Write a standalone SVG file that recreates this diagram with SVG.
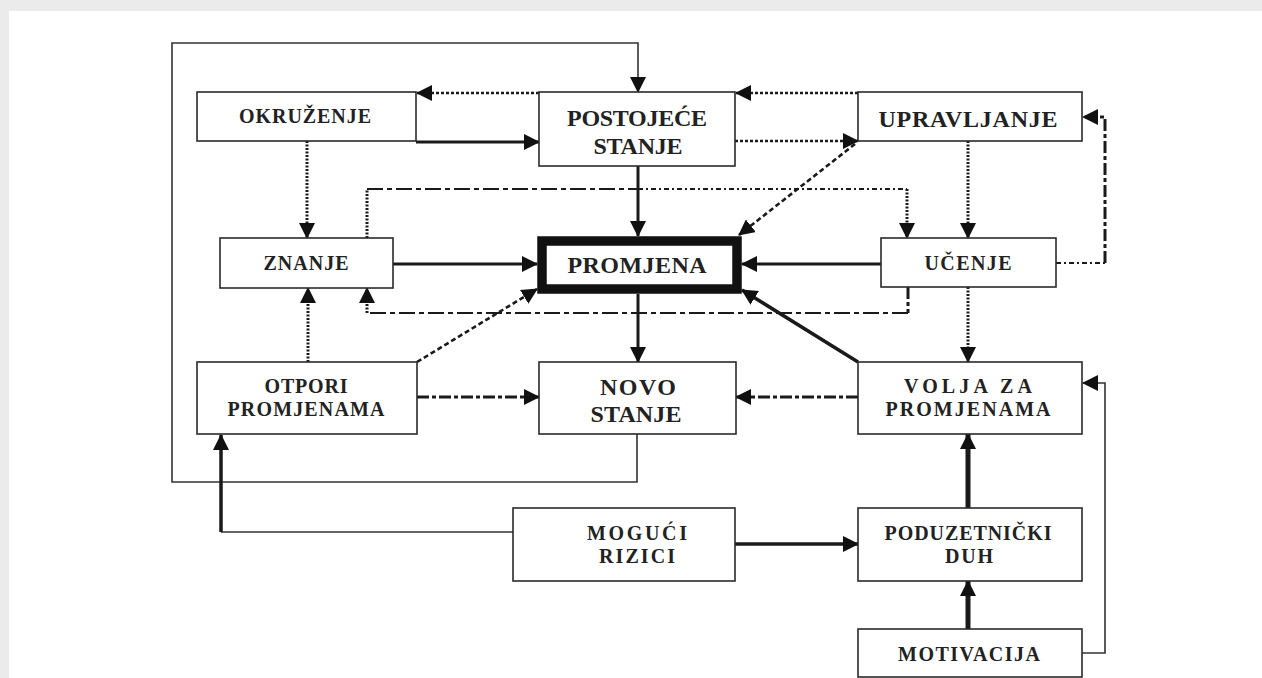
<svg xmlns="http://www.w3.org/2000/svg" width="1262" height="678" viewBox="0 0 1262 678">
<style>
.box{fill:#fff;stroke:#2a2a2a;stroke-width:1.6}
.lbl{font-family:"Liberation Serif","Times New Roman",serif;font-weight:bold;fill:#222;text-anchor:middle}
.s{font-size:20px}
.l{font-size:24px}
.c{fill:none;stroke:#1a1a1a}
.thin{stroke-width:1.6;stroke:#333}
.med{stroke-width:3}
.thick{stroke-width:5}
.dot{stroke-width:2.6;stroke-dasharray:3 2}
.vdot{stroke-width:3;stroke-dasharray:2 1.5}
.dash{stroke-width:2.6;stroke-dasharray:5 3}
.dd{stroke-width:3;stroke-dasharray:12 3 4 3}
.ddthin{stroke-width:1.8;stroke-dasharray:16 4 5 4}
.dotthin{stroke-width:1.8;stroke-dasharray:5 3 2 3}
</style>
<defs>
<marker id="ah" markerUnits="userSpaceOnUse" markerWidth="16" markerHeight="16" refX="15" refY="8" orient="auto">
<path d="M0,0 L16,8 L0,16 z" fill="#111"/>
</marker>
</defs>
<rect x="0" y="0" width="1262" height="678" fill="#ebebeb"/>
<rect x="9" y="11" width="1253" height="667" fill="#fff"/>

<g id="connectors">
<path class="c thin" d="M637,434 V482 H172 V43 H638 V92" marker-end="url(#ah)"/>
<path class="c thin" d="M513,532 H221"/>
<path class="c" stroke-width="3.5" d="M221,532 V435" marker-end="url(#ah)"/>
<path class="c thin" d="M1082,653 H1105 V383 H1083" marker-end="url(#ah)"/>

<path class="c med" d="M416,142 H539" marker-end="url(#ah)"/>
<path class="c med" d="M638,166 V236" marker-end="url(#ah)"/>
<path class="c med" d="M393,264 H537" marker-end="url(#ah)"/>
<path class="c med" d="M881,264 H742" marker-end="url(#ah)"/>
<path class="c med" d="M638,294 V362" marker-end="url(#ah)"/>
<path class="c" stroke-width="3.5" d="M858,362 L742,290" marker-end="url(#ah)"/>
<path class="c" stroke-width="3.5" d="M735,544 H858" marker-end="url(#ah)"/>
<path class="c thick" d="M968,508 V434" marker-end="url(#ah)"/>
<path class="c thick" d="M968,629 V581" marker-end="url(#ah)"/>

<path class="c dot" d="M858,93 H736" marker-end="url(#ah)"/>
<path class="c dot" d="M539,93 H417" marker-end="url(#ah)"/>
<path class="c dot" d="M735,141 H858" marker-end="url(#ah)"/>
<path class="c dash" d="M855,144 L739,235" marker-end="url(#ah)"/>
<path class="c dash" d="M417,362 L537,289" marker-end="url(#ah)"/>

<path class="c vdot" d="M307,141 V238" marker-end="url(#ah)"/>
<path class="c vdot" d="M968,141 V238" marker-end="url(#ah)"/>
<path class="c vdot" d="M968,287 V362" marker-end="url(#ah)"/>
<path class="c vdot" d="M308,362 V288" marker-end="url(#ah)"/>

<path class="c vdot" d="M367,238 V189"/>
<path class="c ddthin" d="M367,189 H638"/>
<path class="c dotthin" d="M638,189 H907"/>
<path class="c vdot" d="M907,189 V238" marker-end="url(#ah)"/>

<path class="c dd" d="M908,287 V313"/>
<path class="c ddthin" d="M908,313 H367"/>
<path class="c vdot" d="M367,313 V288" marker-end="url(#ah)"/>

<path class="c dotthin" d="M1056,263 H1105"/>
<path class="c dd" d="M1105,263 V117 H1083" marker-end="url(#ah)"/>

<path class="c dd" d="M417,397 H539" marker-end="url(#ah)"/>
<path class="c dd" d="M858,397 H736" marker-end="url(#ah)"/>
</g>

<g id="okruzenje">
<rect class="box" x="197" y="92" width="219" height="49"/>
<text class="lbl s" x="305" y="123" textLength="132" lengthAdjust="spacing">OKRUŽENJE</text>
</g>
<g id="postojece">
<rect class="box" x="539" y="92" width="196" height="74"/>
<text class="lbl l" x="637" y="126" textLength="140" lengthAdjust="spacing">POSTOJEĆE</text>
<text class="lbl l" x="638" y="154" textLength="89" lengthAdjust="spacing">STANJE</text>
</g>
<g id="upravljanje">
<rect class="box" x="858" y="92" width="224" height="49"/>
<text class="lbl l" x="968" y="127" textLength="179" lengthAdjust="spacing">UPRAVLJANJE</text>
</g>
<g id="znanje">
<rect class="box" x="220" y="238" width="173" height="50"/>
<text class="lbl s" x="306" y="270" textLength="85" lengthAdjust="spacing">ZNANJE</text>
</g>
<g id="promjena">
<rect x="542" y="241" width="195" height="48" fill="#fff" stroke="#111" stroke-width="9.5"/>
<text class="lbl l" x="637" y="273" textLength="139" lengthAdjust="spacing">PROMJENA</text>
</g>
<g id="ucenje">
<rect class="box" x="881" y="238" width="175" height="49"/>
<text class="lbl s" x="968" y="270" textLength="87" lengthAdjust="spacing">UČENJE</text>
</g>
<g id="otpori">
<rect class="box" x="197" y="362" width="220" height="72"/>
<text class="lbl s" x="306" y="393" textLength="83" lengthAdjust="spacing">OTPORI</text>
<text class="lbl s" x="306" y="416" textLength="157" lengthAdjust="spacing">PROMJENAMA</text>
</g>
<g id="novo">
<rect class="box" x="539" y="362" width="197" height="72"/>
<text class="lbl l" x="638" y="395" textLength="76" lengthAdjust="spacing">NOVO</text>
<text class="lbl l" x="636" y="422" textLength="91" lengthAdjust="spacing">STANJE</text>
</g>
<g id="volja">
<rect class="box" x="858" y="362" width="224" height="72"/>
<text class="lbl s" x="968" y="393" textLength="128" lengthAdjust="spacing">VOLJA ZA</text>
<text class="lbl s" x="968" y="416" textLength="165" lengthAdjust="spacing">PROMJENAMA</text>
</g>
<g id="moguci">
<rect class="box" x="513" y="508" width="222" height="73"/>
<text class="lbl s" x="637" y="540" textLength="100" lengthAdjust="spacing">MOGUĆI</text>
<text class="lbl s" x="637" y="563" textLength="76" lengthAdjust="spacing">RIZICI</text>
</g>
<g id="poduzetnicki">
<rect class="box" x="858" y="508" width="224" height="73"/>
<text class="lbl s" x="968" y="540" textLength="167" lengthAdjust="spacing">PODUZETNIČKI</text>
<text class="lbl s" x="969" y="563" textLength="48" lengthAdjust="spacing">DUH</text>
</g>
<g id="motivacija">
<rect class="box" x="858" y="629" width="224" height="48"/>
<text class="lbl s" x="969" y="661" textLength="142" lengthAdjust="spacing">MOTIVACIJA</text>
</g>
</svg>
